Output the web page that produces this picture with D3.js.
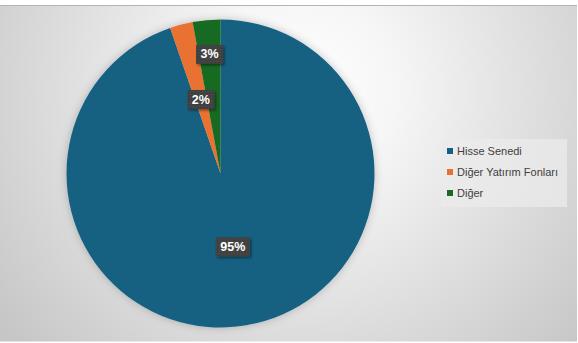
<!DOCTYPE html>
<html>
<head>
<meta charset="utf-8">
<script src="https://cdn.jsdelivr.net/npm/d3@7"></script>
<style>
  body { margin: 0; background: #fff; }
  svg { display: block; }
</style>
</head>
<body>
<svg id="chart"></svg>
<script>
/* global d3 */

var categories = ['Hisse Senedi', 'Diğer Yatırım Fonları', 'Diğer'];
var values = [94.7, 2.4, 2.9];
var labels = ['95%', '2%', '3%'];
var colors = ['#156082', '#E97132', '#196B24'];

var width = 578, height = 343;
var cx = 220.5, cy = 173.5, radius = 154;
// how far out each label sits, as a share of the radius
var labelRadius = [0.48, 0.5, 0.78];

var svg = d3.select('#chart').attr('width', width).attr('height', height);
var defs = svg.append('defs');

var grad = defs.append('radialGradient')
    .attr('id', 'bg')
    .attr('gradientUnits', 'userSpaceOnUse')
    .attr('cx', 300).attr('cy', 90).attr('r', 380);
grad.append('stop').attr('offset', 0).attr('stop-color', '#ffffff');
grad.append('stop').attr('offset', 0.25).attr('stop-color', '#f6f6f6');
grad.append('stop').attr('offset', 1).attr('stop-color', '#c6c6c6');

var pieShadow = defs.append('filter').attr('id', 'pieShadow')
    .attr('x', '-20%').attr('y', '-20%').attr('width', '140%').attr('height', '140%');
pieShadow.append('feDropShadow').attr('dx', 0).attr('dy', 0)
    .attr('stdDeviation', 4).attr('flood-color', '#000').attr('flood-opacity', 0.22);

var boxShadow = defs.append('filter').attr('id', 'boxShadow')
    .attr('x', '-30%').attr('y', '-30%').attr('width', '160%').attr('height', '160%');
boxShadow.append('feDropShadow').attr('dx', 1.5).attr('dy', 1.5)
    .attr('stdDeviation', 1.2).attr('flood-color', '#000').attr('flood-opacity', 0.45);

var dots = defs.append('pattern').attr('id', 'dots')
    .attr('patternUnits', 'userSpaceOnUse').attr('width', 3).attr('height', 3);
dots.append('rect').attr('width', 3).attr('height', 3).attr('fill', '#3f3f3f');
dots.append('rect').attr('x', 1).attr('y', 1).attr('width', 1).attr('height', 1).attr('fill', '#555');

// chart area
svg.append('rect').attr('x', 0).attr('y', 5.5).attr('width', 577).attr('height', 336)
    .attr('fill', 'url(#bg)');
svg.append('line').attr('x1', 0).attr('x2', 577).attr('y1', 5.5).attr('y2', 5.5)
    .attr('stroke', '#b3b3b3').attr('stroke-width', 1);

var pie = d3.pie().sort(null).value(function(d){ return d; });
var arcs = pie(values);
var arc = d3.arc().innerRadius(0).outerRadius(radius);

var plot = svg.append('g').attr('transform', 'translate(' + cx + ',' + cy + ')');

plot.append('g').attr('filter', 'url(#pieShadow)')
    .selectAll('path')
    .data(arcs)
    .enter()
    .append('path')
    .attr('d', arc)
    .attr('fill', function(d, i){ return colors[i]; });

var lab = plot.selectAll('.lbl')
    .data(arcs)
    .enter()
    .append('g')
    .attr('class', 'lbl')
    .attr('transform', function(d, i){
        var r = radius * labelRadius[i];
        var c = d3.arc().innerRadius(r).outerRadius(r).centroid(d);
        return 'translate(' + c[0] + ',' + c[1] + ')';
    });

lab.append('text')
    .attr('text-anchor', 'middle')
    .attr('dy', '0.36em')
    .attr('font-family', 'Liberation Sans, Arial, sans-serif')
    .attr('font-weight', 'bold')
    .attr('font-size', '12.5px')
    .attr('fill', '#fff')
    .text(function(d, i){ return labels[i]; });

lab.each(function(){
    var g = d3.select(this);
    var b = g.select('text').node().getBBox();
    g.insert('rect', 'text')
        .attr('x', b.x - 4.5).attr('y', b.y - 2.5)
        .attr('width', b.width + 9).attr('height', b.height + 5)
        .attr('fill', 'url(#dots)')
        .attr('filter', 'url(#boxShadow)');
});

// legend
var legend = svg.append('g').attr('transform', 'translate(441,139)');
legend.append('rect').attr('width', 126).attr('height', 68)
    .attr('fill', '#ebebeb').attr('fill-opacity', 0.75);

var item = legend.selectAll('.item')
    .data(categories)
    .enter()
    .append('g')
    .attr('class', 'item')
    .attr('transform', function(d, i){ return 'translate(6,' + (12 + i * 21) + ')'; });

item.append('rect')
    .attr('x', 0).attr('y', -3).attr('width', 6).attr('height', 6)
    .attr('fill', function(d, i){ return colors[i]; });

item.append('text')
    .attr('x', 10)
    .attr('dy', '0.35em')
    .attr('font-family', 'Liberation Sans, Arial, sans-serif')
    .attr('font-size', '11px')
    .attr('fill', '#404040')
    .text(function(d){ return d; });
</script>
</body>
</html>
